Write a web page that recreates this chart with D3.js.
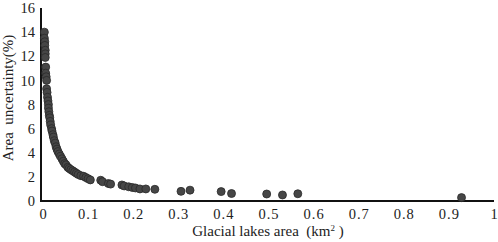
<!DOCTYPE html>
<html>
<head>
<meta charset="utf-8">
<script src="https://cdn.jsdelivr.net/npm/d3@7"></script>
<style>
  body { margin: 0; background: #fff; }
</style>
</head>
<body>
<svg id="chart"></svg>
<script>
// glacial lake area (km2) and area uncertainty (%)
var lakeArea = [0.003,0.003,0.004,0.004,0.005,0.005,0.005,0.006,0.006,0.007,
    0.008,0.008,0.009,0.010,0.011,0.012,0.012,0.013,0.014,0.015,
    0.016,0.017,0.019,0.020,0.022,0.023,0.025,0.027,0.029,0.031,
    0.033,0.036,0.039,0.042,0.045,0.048,0.051,0.055,0.058,0.062,
    0.066,0.070,0.074,0.078,0.084,0.090,0.095,0.100,0.105,0.128,
    0.132,0.145,0.150,0.175,0.180,0.190,0.198,0.205,0.215,0.228,
    0.248,0.306,0.326,0.395,0.418,0.496,0.531,0.565,0.928];
var uncertainty = [14.0,13.5,13.2,12.9,12.5,12.2,11.9,11.1,10.6,10.3,
    10.0,9.3,9.0,8.6,8.3,8.0,7.7,7.4,7.1,6.9,
    6.6,6.3,6.0,5.8,5.5,5.3,5.0,4.8,4.5,4.3,
    4.1,3.9,3.7,3.5,3.3,3.1,3.0,2.8,2.7,2.6,
    2.5,2.4,2.3,2.2,2.1,2.05,1.95,1.85,1.75,1.72,
    1.6,1.45,1.4,1.33,1.25,1.18,1.12,1.08,1.0,1.0,
    0.97,0.8,0.9,0.78,0.62,0.58,0.5,0.6,0.28];
var xTicks = [0,0.1,0.2,0.3,0.4,0.5,0.6,0.7,0.8,0.9,1];
var yTicks = [0,2,4,6,8,10,12,14,16];

var width = 498, height = 242;
var svg = d3.select("#chart").attr("width", width).attr("height", height)
    .attr("font-family", "Liberation Serif");

var x = d3.scaleLinear().domain([0, 1]).range([43, 494]);
var y = d3.scaleLinear().domain([0, 16]).range([201, 8]);

// x axis
var xAxis = svg.append("g")
    .attr("transform", "translate(0," + y(0) + ")")
    .call(d3.axisBottom(x).tickValues(xTicks).tickSize(0).tickPadding(8)
        .tickFormat(function(d){ return d === 0 || d === 1 ? d3.format("d")(d) : d3.format(".1f")(d); }));
xAxis.attr("font-family", "Liberation Serif").attr("font-size", 14.5);
xAxis.select(".domain").remove();
xAxis.selectAll("text").attr("fill", "#222").style("letter-spacing", "1px");
svg.append("line").attr("x1", 41).attr("x2", 494)
    .attr("y1", y(0)).attr("y2", y(0))
    .attr("stroke", "#111").attr("stroke-width", 2);

// y axis
var yAxis = svg.append("g")
    .attr("transform", "translate(41,0)")
    .call(d3.axisLeft(y).tickValues(yTicks).tickSize(0).tickPadding(6));
yAxis.attr("font-family", "Liberation Serif").attr("font-size", 14.5);
yAxis.select(".domain").remove();
yAxis.selectAll("text").attr("fill", "#222");
svg.append("line").attr("x1", 41).attr("x2", 41)
    .attr("y1", y(16)).attr("y2", y(0) + 1)
    .attr("stroke", "#111").attr("stroke-width", 2);

// points
svg.selectAll("circle.pt")
    .data(lakeArea)
    .enter()
    .append("circle")
    .attr("class", "pt")
    .attr("cx", function(d){ return x(d); })
    .attr("cy", function(d, i){ return y(uncertainty[i]); })
    .attr("r", 4)
    .style("fill", "#464646")
    .style("stroke", "#2a2a2a")
    .style("stroke-width", 0.8);

// axis titles
svg.append("text")
    .attr("transform", "translate(13,98) rotate(-90)")
    .attr("text-anchor", "middle")
    .attr("fill", "#222")
    .attr("font-size", 15)
    .style("white-space", "pre")
    .text("Area  uncertainty(%)");

var xt = svg.append("text")
    .attr("x", 268).attr("y", 236)
    .attr("text-anchor", "middle")
    .attr("fill", "#222")
    .attr("font-size", 15)
    .style("white-space", "pre");
xt.append("tspan").text("Glacial lakes area  (km");
xt.append("tspan").attr("dy", -5).attr("font-size", 9).text("2");
xt.append("tspan").attr("dy", 5).text(" )");
</script>
</body>
</html>
